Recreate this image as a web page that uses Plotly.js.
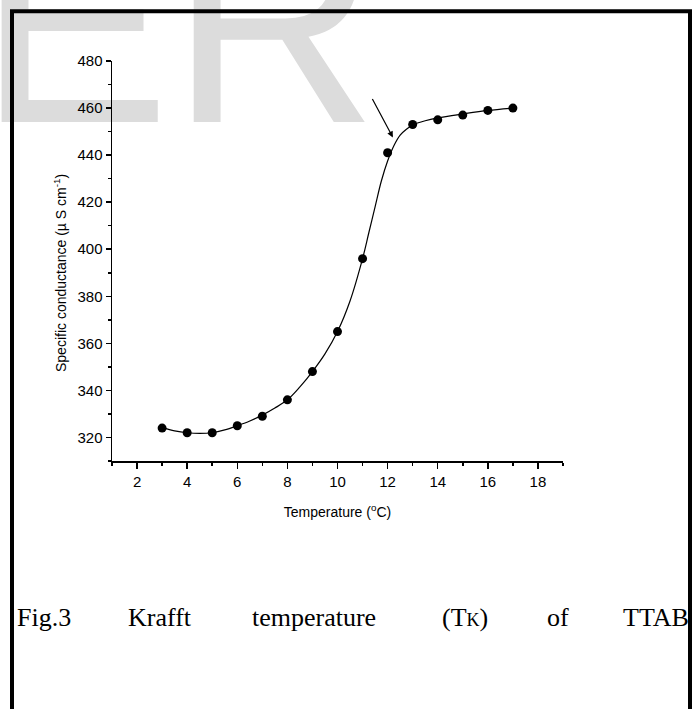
<!DOCTYPE html>
<html><head><meta charset="utf-8">
<script src="https://cdn.plot.ly/plotly-3.0.1.min.js"></script>
<style>
html,body{margin:0;padding:0;background:#fff;overflow:hidden}
#wrap{position:relative;width:697px;height:709px;overflow:hidden;background:#fff}
#wm{position:absolute;left:-22px;top:-122px;font-family:"Liberation Sans",Arial,sans-serif;font-size:288px;line-height:1;color:#dcdcdc;white-space:nowrap;z-index:0}
#chart{position:absolute;left:0;top:0;width:697px;height:709px;z-index:1}
</style></head><body>
<div id="wrap"><div id="wm">ER</div><div id="chart"></div></div>
<script>
// measured data points
const temperature = [3, 4, 5, 6, 7, 8, 9, 10, 11, 12, 13, 14, 15, 16, 17];
const conductance = [324, 322, 322, 325, 329, 336, 348, 365, 396, 441, 453, 455, 457, 459, 460];
// fitted curve
const fitTemperature = [3, 3.5, 4, 4.5, 5, 5.5, 6, 6.5, 7, 7.5, 8, 8.5, 9, 9.5, 10, 10.5, 11, 11.25, 11.5, 11.75, 12, 12.25, 12.5, 12.75, 13, 13.5, 14, 15, 16, 17];
const fitConductance = [324.2, 322.8, 322, 321.7, 322, 323.2, 325, 327, 329.5, 332.5, 336, 341.5, 348, 355.5, 365, 378, 396, 407, 418, 429, 437.5, 444, 448.5, 451, 452.8, 454.6, 455.8, 457.5, 459, 460];
// axis ticks
const xTickValues = [2, 4, 6, 8, 10, 12, 14, 16, 18];
const yTickValues = [320, 340, 360, 380, 400, 420, 440, 460, 480];
// texts
const xTitle = 'Temperature (<sup>o</sup>C)';
const yTitle = 'Specific conductance (µ S cm<sup>-1</sup>)';
const captionWords = ["Fig.3", "Krafft", "temperature", "(T<span style='font-size:18px'>K</span>)", "of", "TTAB"];

const W = 697, H = 709, L = 112, R = 134, T = 61, B = 248;
const pw = W - L - R, ph = H - T - B;
const px = v => (v - L) / pw;
const py = v => 1 - (v - T) / ph;

const axisFont = {family: '"Liberation Sans", Arial, sans-serif', size: 14, color: '#000'};
const tickFont = {family: '"Liberation Sans", Arial, sans-serif', size: 15, color: '#000'};

const captionX = [15, 126, 250, 440, 545, 621];
const annotations = captionWords.map((w, i) => ({
  text: w, xref: 'paper', yref: 'paper', x: px(captionX[i]), y: py(617),
  xanchor: 'left', yanchor: 'middle', showarrow: false,
  font: {family: '"Liberation Serif", "Times New Roman", serif', size: 26, color: '#000'}
}));
annotations.push({
  text: yTitle, xref: 'paper', yref: 'paper', x: px(60), y: py(273),
  xanchor: 'center', yanchor: 'middle', textangle: -90, showarrow: false, font: axisFont
});
annotations.push({
  x: 12.21, y: 447.5, ax: 11.36, ay: 464.5, axref: 'x', ayref: 'y', xref: 'x', yref: 'y',
  text: '', showarrow: true, arrowhead: 2, arrowsize: 1, arrowwidth: 1.2, arrowcolor: '#000', standoff: 0
});

Plotly.newPlot('chart', [
  {x: fitTemperature, y: fitConductance, mode: 'lines', line: {color: '#000', width: 1.2, shape: 'spline', smoothing: 1}, hoverinfo: 'skip', showlegend: false},
  {x: temperature, y: conductance, mode: 'markers', marker: {color: '#000', size: 9}, showlegend: false}
], {
  width: W, height: H,
  margin: {l: L, r: R, t: T, b: B, pad: 0},
  paper_bgcolor: 'rgba(0,0,0,0)', plot_bgcolor: 'rgba(0,0,0,0)',
  showlegend: false,
  xaxis: {
    range: [1, 19], tickvals: xTickValues, ticktext: xTickValues.map(String),
    showgrid: false, zeroline: false, showline: true, linecolor: '#000', linewidth: 1.5,
    ticks: 'outside', ticklen: 6, tickwidth: 1.5, tickcolor: '#000', tickfont: tickFont,
    minor: {dtick: 1, tick0: 1, ticks: 'outside', ticklen: 3.5, tickwidth: 1.5, tickcolor: '#000', showgrid: false},
    title: {text: xTitle, font: axisFont, standoff: 18}
  },
  yaxis: {
    range: [310, 480], tickvals: yTickValues, ticktext: yTickValues.map(String),
    showgrid: false, zeroline: false, showline: true, linecolor: '#000', linewidth: 1.5,
    ticks: 'outside', ticklen: 5, tickwidth: 1.5, tickcolor: '#000', tickfont: tickFont,
    minor: {dtick: 10, tick0: 0, ticks: 'outside', ticklen: 3, tickwidth: 1.5, tickcolor: '#000', showgrid: false}
  },
  shapes: [{
    type: 'rect', xref: 'paper', yref: 'paper',
    x0: px(12), x1: px(690), y0: py(730), y1: py(11.3),
    line: {color: '#000', width: 4}, fillcolor: 'rgba(0,0,0,0)', layer: 'above'
  }],
  annotations: annotations
}, {displayModeBar: false, staticPlot: true});
</script>
</body></html>
